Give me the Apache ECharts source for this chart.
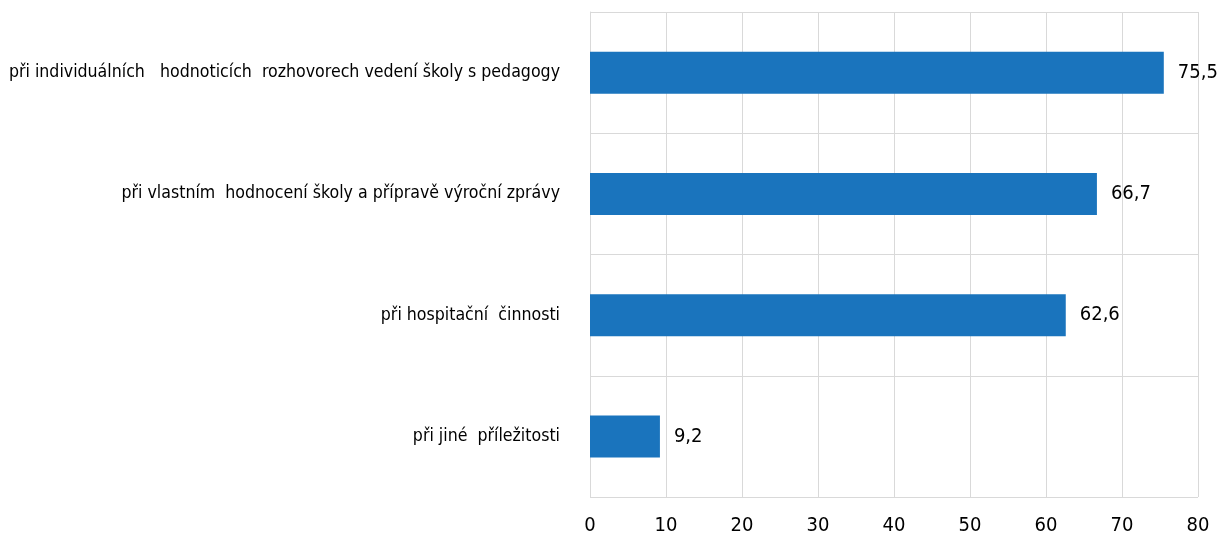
<!DOCTYPE html>
<html><head><meta charset="utf-8">
<script src="https://cdn.jsdelivr.net/npm/echarts@6/dist/echarts.min.js"></script>
<style>html,body{margin:0;padding:0;background:#fff}#c{width:1218px;height:542px}</style>
</head><body><div id="c"></div>
<script>
const categories = [
  "při individuálních   hodnoticích  rozhovorech vedení školy s pedagogy",
  "při vlastním  hodnocení školy a přípravě výroční zprávy",
  "při hospitační  činnosti",
  "při jiné  příležitosti"
];
const values = [75.5, 66.7, 62.6, 9.2];
const xTicks = { min: 0, max: 80, interval: 10 };

const FONT = '"Liberation Sans Narrow", "DejaVu Sans Condensed", sans-serif';
const chart = echarts.init(document.getElementById('c'), null, {renderer: 'canvas'});
chart.setOption({
  animation: false,
  grid: { left: 590, right: 20, top: 12, bottom: 45, containLabel: false, outerBoundsMode: 'none' },
  xAxis: {
    type: 'value', min: xTicks.min, max: xTicks.max, interval: xTicks.interval,
    axisLine: { show: false }, axisTick: { show: false },
    splitLine: { show: true, lineStyle: { color: '#d9d9d9', width: 1 } },
    axisLabel: { fontFamily: FONT, fontSize: 20, color: '#000', margin: 19 }
  },
  yAxis: {
    type: 'category', inverse: true, data: categories,
    axisLine: { show: true, lineStyle: { color: '#d9d9d9' } },
    axisTick: { show: false },
    splitLine: { show: true, lineStyle: { color: '#d9d9d9', width: 1 } },
    axisLabel: { fontFamily: FONT, fontSize: 17.6, color: '#000', margin: 30 }
  },
  series: [{
    type: 'bar', data: values, barWidth: 42,
    itemStyle: { color: '#1a74bd' },
    label: { show: true, position: 'right', distance: 14, color: '#000',
      fontFamily: FONT, fontSize: 20,
      formatter: p => String(p.value).replace('.', ',') }
  }]
});
</script></body></html>
